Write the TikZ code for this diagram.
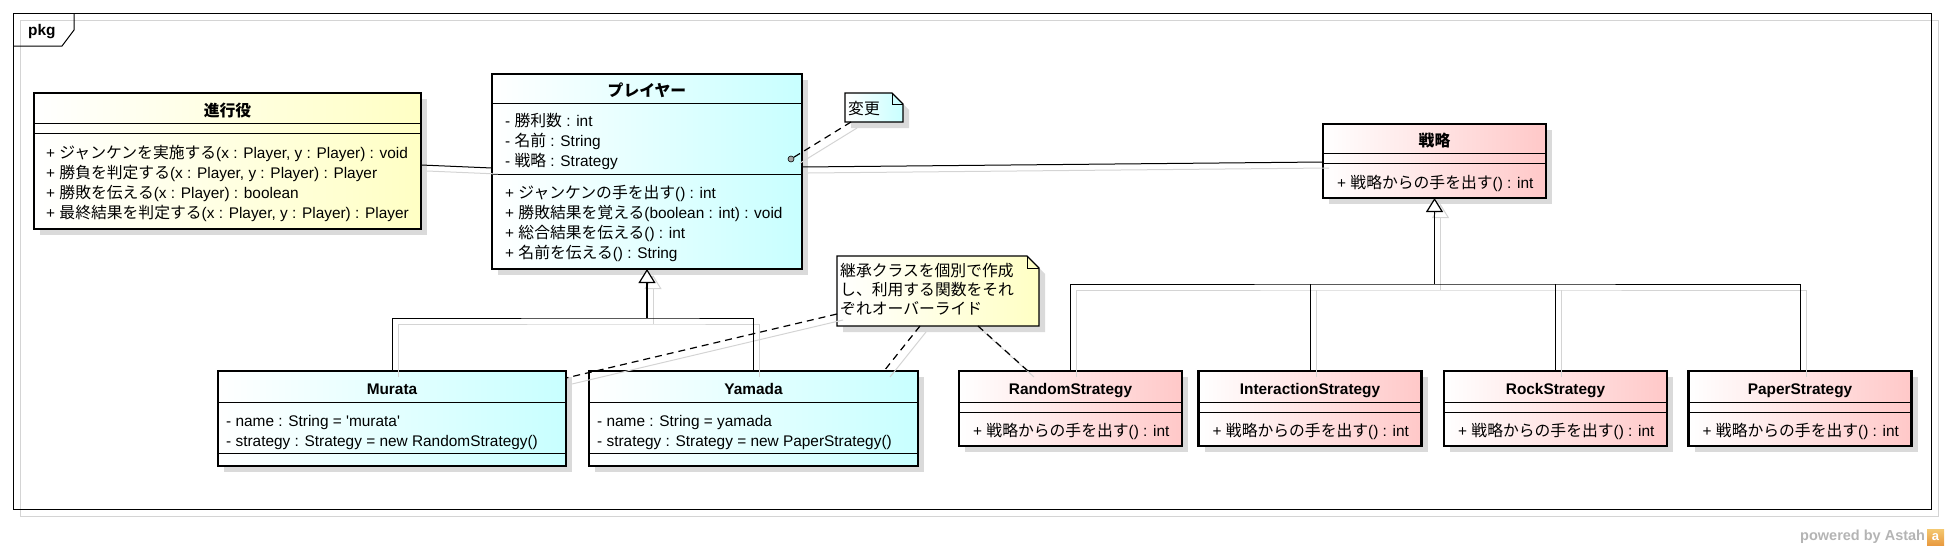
\documentclass[tikz,border=0pt]{standalone}
\usepackage{fontspec}
\setmainfont{Liberation Sans}
\newfontfamily\jpf{Noto Sans CJK JP}
\usetikzlibrary{arrows.meta,shadows}
\definecolor{yel}{HTML}{FFFFC4}
\definecolor{cya}{HTML}{C8FFFF}
\definecolor{pnk}{HTML}{FFC8C8}
\definecolor{shd}{HTML}{DADADA}
\definecolor{lshd}{HTML}{D4D4D4}
\definecolor{pwgray}{HTML}{B4B4B4}
\definecolor{logoa}{HTML}{F4C870}
\definecolor{logob}{HTML}{E89A40}
\newcommand\fs{\fontsize{15.4pt}{19pt}\selectfont}
\newcommand\jp[1]{{\jpf\fontsize{15.8pt}{19pt}\selectfont #1}}
\begin{document}
\begin{tikzpicture}[x=1pt,y=-1pt,
  cbox/.style={draw, line width=2.8pt, outer sep=0pt, inner sep=0pt, left color=white, right color=#1,
    drop shadow={shadow xshift=6pt, shadow yshift=-6pt, fill=shd, opacity=1}},
  sep/.style={line width=1pt},
  txt/.style={inner sep=0pt, anchor=base west, font=\fs},
  ttl/.style={inner sep=0pt, anchor=base, font=\fs\bfseries},
  conn/.style={line width=1pt},
  shline/.style={draw=lshd, line width=1pt, transform canvas={shift={(6pt,-6pt)}}},
  gen/.style={line width=1.6pt, -{Triangle[length=14pt,width=17pt,fill=white,line width=1.2pt]}},
  genshadow/.style={shline, -{Triangle[length=14pt,width=17pt,open,line width=1pt]}},
  ndash/.style={line width=1.2pt, dash pattern=on 7pt off 5pt},
  notebox/.style={draw, line width=1.2pt, left color=white, right color=#1},
  ghost/.style={inner sep=0pt, outer sep=0pt},
]
\useasboundingbox (0,0) rectangle (1945,549);
% frame
\draw[lshd, line width=1pt] (20,20) rectangle (1938,516);
\draw[line width=1pt] (13,13) rectangle (1931,509);
\draw[line width=1pt] (13,46) -- (62,46) -- (74,30) -- (74,13);
\node[inner sep=0pt, anchor=base west, font=\fs\bfseries] (pkg) at (28,35) {pkg};

% ---- classes
\node[cbox=yel, minimum width=387pt, minimum height=136pt] (director) at (227.5,161) {};
\draw[sep] (director.west |- 0,123) -- (director.east |- 0,123);
\draw[sep] (director.west |- 0,133) -- (director.east |- 0,133);
\node[ttl] (d0) at (227.5,116) {\jp{\bfseries 進行役}};
\node[txt] (d1) at (46,158) {+ \jp{ジャンケンを実施する}(x : Player, y : Player) : void};
\node[txt] (d2) at (46,178) {+ \jp{勝負を判定する}(x : Player, y : Player) : Player};
\node[txt] (d3) at (46,198) {+ \jp{勝敗を伝える}(x : Player) : boolean};
\node[txt] (d4) at (46,218) {+ \jp{最終結果を判定する}(x : Player, y : Player) : Player};

\node[cbox=cya, minimum width=310pt, minimum height=195pt] (player) at (647,171.5) {};
\draw[sep] (player.west |- 0,103) -- (player.east |- 0,103);
\draw[sep] (player.west |- 0,174) -- (player.east |- 0,174);
\node[ttl] (p0) at (647,96) {\jp{\bfseries プレイヤー}};
\node[txt] (p1) at (505,126) {- \jp{勝利数} : int};
\node[txt] (p2) at (505,146) {- \jp{名前} : String};
\node[txt] (p3) at (505,166) {- \jp{戦略} : Strategy};
\node[txt] (p4) at (505,198) {+ \jp{ジャンケンの手を出す}() : int};
\node[txt] (p5) at (505,218) {+ \jp{勝敗結果を覚える}(boolean : int) : void};
\node[txt] (p6) at (505,238) {+ \jp{総合結果を伝える}() : int};
\node[txt] (p7) at (505,258) {+ \jp{名前を伝える}() : String};
\node[circle, draw, fill=gray!70, inner sep=0pt, minimum size=6pt, line width=0.6pt] (circ) at (791,159) {};

\node[cbox=pnk, minimum width=223pt, minimum height=74pt] (strategy) at (1434.5,161) {};
\draw[sep] (strategy.west |- 0,153) -- (strategy.east |- 0,153);
\draw[sep] (strategy.west |- 0,163) -- (strategy.east |- 0,163);
\node[ttl] (s0) at (1434.5,146) {\jp{\bfseries 戦略}};
\node[txt] (s1) at (1337,188) {+ \jp{戦略からの手を出す}() : int};

\node[cbox=cya, minimum width=348pt, minimum height=95pt] (murata) at (392,418.5) {};
\draw[sep] (murata.west |- 0,402) -- (murata.east |- 0,402);
\draw[sep] (murata.west |- 0,453) -- (murata.east |- 0,453);
\node[ttl] (m0) at (392,394) {Murata};
\node[txt] (m1) at (226,426) {- name : String = \textquotesingle murata\textquotesingle};
\node[txt] (m2) at (226,446) {- strategy : Strategy = new RandomStrategy()};

\node[cbox=cya, minimum width=329pt, minimum height=95pt] (yamada) at (753.5,418.5) {};
\draw[sep] (yamada.west |- 0,402) -- (yamada.east |- 0,402);
\draw[sep] (yamada.west |- 0,453) -- (yamada.east |- 0,453);
\node[ttl] (y0) at (753.5,394) {Yamada};
\node[txt] (y1) at (597,426) {- name : String = yamada};
\node[txt] (y2) at (597,446) {- strategy : Strategy = new PaperStrategy()};

\foreach \nm/\cx/\lbl in {random/1070.5/RandomStrategy, interaction/1310/InteractionStrategy, rock/1555.5/RockStrategy, paper/1800/PaperStrategy}{
  \node[cbox=pnk, minimum width=223pt, minimum height=75pt] (\nm) at (\cx,408.5) {};
  \draw[sep] (\nm.west |- 0,402) -- (\nm.east |- 0,402);
  \draw[sep] (\nm.west |- 0,412) -- (\nm.east |- 0,412);
  \node[ttl] (\nm-t) at (\cx,394) {\lbl};
  \node[txt] (\nm-m) at ([xshift=14pt]\nm.west |- 0,436) {+ \jp{戦略からの手を出す}() : int};
}

% ---- notes
\node[ghost, minimum width=58pt, minimum height=29pt] (note1) at (874,107.5) {};
\fill[shd, transform canvas={shift={(6pt,-6pt)}}] (note1.north west) -- ([xshift=-11pt]note1.north east) -- ([yshift=-11pt]note1.north east) -- (note1.south east) -- (note1.south west) -- cycle;
\draw[notebox=cya] (note1.north west) -- ([xshift=-11pt]note1.north east) -- ([yshift=-11pt]note1.north east) -- (note1.south east) -- (note1.south west) -- cycle;
\draw[line width=1pt] ([xshift=-11pt]note1.north east) -- ([xshift=-11pt,yshift=-11pt]note1.north east) -- ([yshift=-11pt]note1.north east);
\node[txt] (n1) at (848,114) {\jp{変更}};

\node[ghost, minimum width=202pt, minimum height=70pt] (note2) at (938,291) {};
\fill[shd, transform canvas={shift={(6pt,-6pt)}}] (note2.north west) -- ([xshift=-12pt]note2.north east) -- ([yshift=-12pt]note2.north east) -- (note2.south east) -- (note2.south west) -- cycle;
\draw[notebox=yel] (note2.north west) -- ([xshift=-12pt]note2.north east) -- ([yshift=-12pt]note2.north east) -- (note2.south east) -- (note2.south west) -- cycle;
\draw[line width=1pt] ([xshift=-12pt]note2.north east) -- ([xshift=-12pt,yshift=-12pt]note2.north east) -- ([yshift=-12pt]note2.north east);
\node[txt] (n2a) at (840,276) {\jp{継承クラスを個別で作成}};
\node[txt] (n2b) at (840,295) {\jp{し、利用する関数をそれ}};
\node[txt] (n2c) at (840,314) {\jp{ぞれオーバーライド}};

% ---- connector shadows
\draw[shline] (director.east |- 0,165) -- (player.west |- 0,168);
\draw[shline] (player.east |- 0,167) -- (strategy.west |- 0,162);
\draw[shline] (murata.north) |- (player.south |- 0,318) -| (yamada.north);
\draw[genshadow] (player.south |- 0,318) -- (player.south);
\draw[shline] (random.north) |- (strategy.south |- 0,284) -| (paper.north);
\draw[shline] (interaction.north) -- (interaction.north |- 0,284);
\draw[shline] (rock.north) -- (rock.north |- 0,284);
\draw[genshadow] (strategy.south |- 0,284) -- (strategy.south);
\draw[shline] ([xshift=6pt]note1.south west) -- (circ);
\draw[shline] (note2.west |- 0,314) -- ([yshift=-7pt]murata.north east);
\draw[shline] (note2.south -| 920,0) -- (yamada.north -| 884,0);
\draw[shline] (note2.south -| 978,0) -- (random.north -| 1028,0);

% ---- connectors
\draw[conn] (director.east |- 0,165) -- (player.west |- 0,168);
\draw[conn] (player.east |- 0,167) -- (strategy.west |- 0,162);
\draw[conn] (murata.north) |- (player.south |- 0,318) -| (yamada.north);
\draw[gen] (player.south |- 0,318) -- (player.south);
\draw[conn] (random.north) |- (strategy.south |- 0,284) -| (paper.north);
\draw[conn] (interaction.north) -- (interaction.north |- 0,284);
\draw[conn] (rock.north) -- (rock.north |- 0,284);
\draw[gen] (strategy.south |- 0,284) -- (strategy.south);
\draw[ndash] ([xshift=6pt]note1.south west) -- (circ);
\draw[ndash] (note2.west |- 0,314) -- ([yshift=-7pt]murata.north east);
\draw[ndash] (note2.south -| 920,0) -- (yamada.north -| 884,0);
\draw[ndash] (note2.south -| 978,0) -- (random.north -| 1028,0);

% ---- footer
\node[inner sep=0pt, anchor=base west, font=\fontsize{14.5pt}{17pt}\selectfont\bfseries, text=pwgray] (pw) at (1800,540) {powered by Astah};
\node[inner sep=0pt, minimum width=17pt, minimum height=16pt, top color=logoa, bottom color=logob, text=white, font=\fontsize{13pt}{13pt}\selectfont\bfseries] (logo) at (1935.5,537) {a};
\end{tikzpicture}
\end{document}
